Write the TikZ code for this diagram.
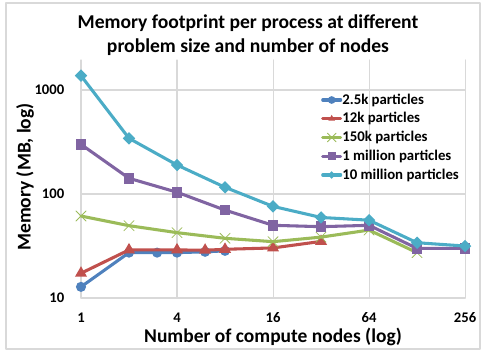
\documentclass[tikz,border=0pt]{standalone}
\usepackage{fontspec}
\setmainfont{Carlito}
\usetikzlibrary{shapes.geometric,shapes.misc}
\definecolor{serA}{HTML}{4F81BD}
\definecolor{serB}{HTML}{C0504D}
\definecolor{serC}{HTML}{9BBB59}
\definecolor{serD}{HTML}{8064A2}
\definecolor{serE}{HTML}{4BACC6}
\definecolor{gridcol}{HTML}{D9D9D9}
\tikzset{
  gridline/.style={draw=gridcol, line width=0.8pt},
  serline/.style={line width=2.3pt, line join=round, line cap=round},
  mkA/.style={circle, fill=serA, inner sep=0pt, minimum size=7.6pt},
  mkB/.style={regular polygon, regular polygon sides=3, fill=serB, inner sep=0pt, minimum size=10.5pt},
  mkC/.style={cross out, draw=serC, line width=0.6pt, inner sep=0pt, minimum size=7pt},
  mkD/.style={rectangle, fill=serD, inner sep=0pt, minimum size=8pt},
  mkE/.style={diamond, fill=serE, inner sep=0pt, minimum size=9.5pt},
  small/.style={minimum size=5.8pt},
  ticklab/.style={font=\bfseries\fontsize{11}{13}\selectfont},
  axtitle/.style={font=\bfseries\fontsize{14.6}{17}\selectfont},
}
\begin{document}
\begin{tikzpicture}[x=0.75pt, y=-0.75pt, line join=round, line cap=round]
  \useasboundingbox (0,0) rectangle (484,352);
  \draw[draw=gridcol, line width=0.8pt] (6,3) rectangle (480,349);
  % title
  \node[anchor=base, font=\bfseries\fontsize{14.7}{17}\selectfont] (title1) at (248,28.3) {Memory footprint per process at different};
  \node[anchor=base, font=\bfseries\fontsize{14.7}{17}\selectfont] (title2) at (248,52.6) {problem size and number of nodes};
  % grid
  \foreach \v/\lab in {10/10,100/100,1000/1000} {
    \pgfmathsetmacro{\y}{402-104*log10(\v)}
    \draw[gridline] (81,\y) -- (465,\y);
    \node[ticklab, anchor=east] (yl\lab) at (69,\y) {\lab};
  }
  \foreach \n in {1,4,16,64,256} {
    \pgfmathsetmacro{\x}{81+48*ln(\n)/ln(2)}
    \draw[gridline] (\x,60) -- (\x,298);
    \node[ticklab] (xl\n) at (\x,318) {\n};
  }
  \node[axtitle] (xtitle) at (273,337) {Number of compute nodes (log)};
  \node[axtitle, rotate=90] (ytitle) at (25,177) {Memory (MB, log)};
  % series 2.5k
  \foreach \n/\v [count=\i] in {1/12.8,2/27.3,3/27.3,4/27.3,6/27.8,8/28.4} {
    \pgfmathsetmacro{\x}{81+48*ln(\n)/ln(2)}
    \pgfmathsetmacro{\y}{402-104*log10(\v)}
    \coordinate (a\i) at (\x,\y);
  }
  \draw[serline, serA] (a1) \foreach \i in {2,...,6} { -- (a\i) };
  \foreach \i in {1,...,6} \node[mkA] at (a\i) {};
  % series 12k
  \foreach \n/\v [count=\i] in {1/17.3,2/29,4/29,6/28.8,8/29.4,16/30.3,32/35} {
    \pgfmathsetmacro{\x}{81+48*ln(\n)/ln(2)}
    \pgfmathsetmacro{\y}{402-104*log10(\v)}
    \coordinate (b\i) at (\x,\y);
  }
  \draw[serline, serB] (b1) \foreach \i in {2,...,7} { -- (b\i) };
  \foreach \i in {1,...,7} \node[mkB] at (b\i) {};
  % series 150k
  \foreach \n/\v [count=\i] in {1/61.4,2/49.6,4/42.5,8/37.5,16/34.8,32/38.5,64/45,128/27.3} {
    \pgfmathsetmacro{\x}{81+48*ln(\n)/ln(2)}
    \pgfmathsetmacro{\y}{402-104*log10(\v)}
    \coordinate (c\i) at (\x,\y);
  }
  \draw[serline, serC] (c1) \foreach \i in {2,...,8} { -- (c\i) };
  \foreach \i in {1,...,8} \node[mkC] at (c\i) {};
  % series 1 million
  \foreach \n/\v [count=\i] in {1/300,2/141.6,4/104,8/70,16/50,32/48.5,64/50,128/30,256/30} {
    \pgfmathsetmacro{\x}{81+48*ln(\n)/ln(2)}
    \pgfmathsetmacro{\y}{402-104*log10(\v)}
    \coordinate (d\i) at (\x,\y);
  }
  \draw[serline, serD] (d1) \foreach \i in {2,...,9} { -- (d\i) };
  \foreach \i in {1,...,9} \node[mkD] at (d\i) {};
  % series 10 million
  \foreach \n/\v [count=\i] in {1/1372,2/343,4/190,8/116,16/76,32/59.5,64/56,128/34,256/31.6} {
    \pgfmathsetmacro{\x}{81+48*ln(\n)/ln(2)}
    \pgfmathsetmacro{\y}{402-104*log10(\v)}
    \coordinate (e\i) at (\x,\y);
  }
  \draw[serline, serE] (e1) \foreach \i in {2,...,9} { -- (e\i) };
  \foreach \i in {1,...,9} \node[mkE] at (e\i) {};
  % legend
  \foreach \lab/\col/\mk [count=\i] in {2.5k particles/serA/mkA,12k particles/serB/mkB,150k particles/serC/mkC,1 million particles/serD/mkD,10 million particles/serE/mkE} {
    \pgfmathsetmacro{\y}{100+18.75*(\i-1)}
    \coordinate (la\i) at (322.7,\y);
    \coordinate (lb\i) at (340.7,\y);
    \draw[serline, \col] (la\i) -- (lb\i);
    \node[\mk, small] (lm\i) at (331.7,\y) {};
    \node[anchor=west, inner sep=1pt, font=\bfseries\fontsize{11.1}{13}\selectfont] (lt\i) at (lb\i) {\lab};
  }
\end{tikzpicture}
\end{document}
